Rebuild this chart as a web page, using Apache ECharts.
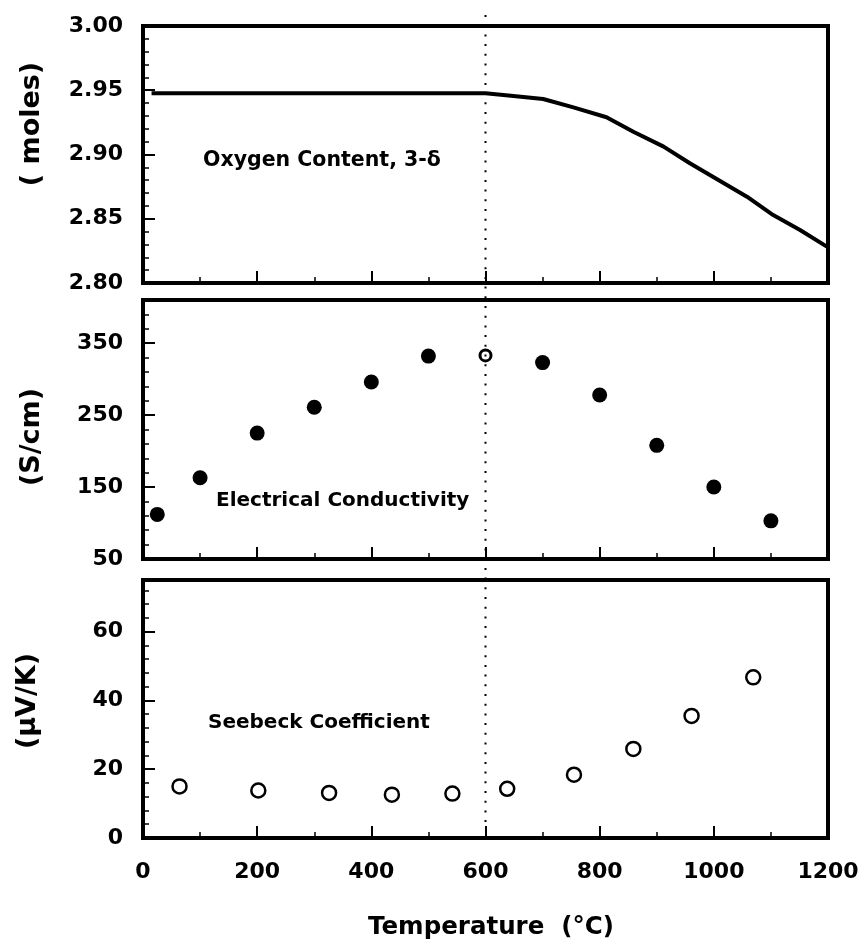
<!DOCTYPE html>
<html><head><meta charset="utf-8">
<script src="https://cdn.jsdelivr.net/npm/echarts@6/dist/echarts.min.js"></script>
<style>html,body{margin:0;padding:0;background:#fff}#c{width:867px;height:944px}</style>
</head><body><div id="c"></div>
<script>
// ---- data ----
const xTickLabels = [0, 200, 400, 600, 800, 1000, 1200];
const oxygenT   = [15, 600, 649, 701, 754, 812, 859, 912, 958, 1005, 1058, 1104, 1151, 1198];
const oxygenVal = [2.9476, 2.9476, 2.9455, 2.9432, 2.9367, 2.9290, 2.9177, 2.9061, 2.8932, 2.8809, 2.8672, 2.8529, 2.8412, 2.8283];
const condT   = [25, 100, 200, 300, 400, 500, 700, 800, 900, 1000, 1100];
const condVal = [112, 163, 225, 261, 296, 332, 323, 278, 208, 150, 103];
const condOpenT   = [600];
const condOpenVal = [333];
const seebeckT   = [64, 202, 326, 436, 542, 638, 755, 859, 961, 1069];
const seebeckVal = [15.0, 13.8, 13.1, 12.6, 12.9, 14.3, 18.4, 25.9, 35.5, 46.7];
const oxygenTicks  = [2.80, 2.85, 2.90, 2.95, 3.00];
const condTicks    = [50, 150, 250, 350];
const seebeckTicks = [0, 20, 40, 60];
const dividerT = 600;

const FONT = 'DejaVu Sans';
const pair = (a, b) => a.map((v, i) => [v, b[i]]);

const grids = [
  {left: 143, right: 39, top: 26, height: 257},
  {left: 143, right: 39, top: 300, height: 259},
  {left: 143, right: 39, top: 580, height: 258}
].map(g => Object.assign(g, {show: true, borderColor: '#000', borderWidth: 4, backgroundColor: 'transparent'}));

function xAxis(i, labels) {
  return {
    type: 'value', gridIndex: i, min: 0, max: 1200, interval: 200,
    axisLine: {show: true, lineStyle: {color: '#000', width: 4}},
    axisTick: {show: true, inside: true, length: 12, lineStyle: {color: '#000', width: 2}},
    minorTick: {show: true, splitNumber: 2, length: 6, lineStyle: {color: '#000', width: 1.5}},
    splitLine: {show: false},
    axisLabel: {show: labels, color: '#000', fontFamily: FONT, fontWeight: 'bold', fontSize: 22, margin: 23,
      formatter: v => xTickLabels.includes(v) ? String(v) : ''}
  };
}
function yMain(i, min, max, step, ticks, fmt) {
  return {
    type: 'value', gridIndex: i, position: 'left', min: min, max: max, interval: step,
    axisLine: {show: true, lineStyle: {color: '#000', width: 4}},
    axisTick: {show: true, inside: true, length: 12, lineStyle: {color: '#000', width: 2}},
    splitLine: {show: false},
    axisLabel: {color: '#000', fontFamily: FONT, fontWeight: 'bold', fontSize: 22, margin: 20,
      formatter: v => ticks.some(t => Math.abs(t - v) < 1e-9) ? fmt(v) : ''}
  };
}
function yMinor(i, min, max, step) {
  return {
    type: 'value', gridIndex: i, position: 'left', offset: 0, min: min, max: max, interval: step,
    axisLine: {show: false},
    axisTick: {show: true, inside: true, length: 6, lineStyle: {color: '#000', width: 1.5}},
    splitLine: {show: false},
    axisLabel: {show: false}
  };
}

const textStyle = (size) => ({fill: '#000', font: 'bold ' + size + 'px "' + FONT + '"'});

const chart = echarts.init(document.getElementById('c'), null, {renderer: 'canvas'});
chart.setOption({
  backgroundColor: '#fff',
  animation: false,
  grid: grids,
  xAxis: [xAxis(0, false), xAxis(1, false), xAxis(2, true)],
  yAxis: [
    yMain(0, 2.80, 3.00, 0.05, oxygenTicks, v => v.toFixed(2)),
    yMain(1, 50, 410, 100, condTicks, v => String(v)),
    yMain(2, 0, 75, 20, seebeckTicks, v => String(v)),
    yMinor(0, 2.80, 3.00, 0.01),
    yMinor(1, 50, 410, 20),
    yMinor(2, 0, 75, 4)
  ],
  series: [
    {name: 'Oxygen Content', type: 'line', xAxisIndex: 0, yAxisIndex: 0, data: pair(oxygenT, oxygenVal),
      showSymbol: false, smooth: false, lineStyle: {color: '#000', width: 4, join: 'round'}, z: 3},
    {name: 'Electrical Conductivity', type: 'scatter', xAxisIndex: 1, yAxisIndex: 1, data: pair(condT, condVal),
      symbol: 'circle', symbolSize: 15, itemStyle: {color: '#000', opacity: 1}, z: 3},
    {name: 'Electrical Conductivity (600)', type: 'scatter', xAxisIndex: 1, yAxisIndex: 1, data: pair(condOpenT, condOpenVal),
      symbol: 'circle', symbolSize: 11, itemStyle: {color: '#fff', borderColor: '#000', borderWidth: 3, opacity: 1}, z: 4},
    {name: 'Seebeck Coefficient', type: 'scatter', xAxisIndex: 2, yAxisIndex: 2, data: pair(seebeckT, seebeckVal),
      symbol: 'circle', symbolSize: 14, itemStyle: {color: '#fff', borderColor: '#000', borderWidth: 2.5, opacity: 1}, z: 3}
  ],
  graphic: [
    {type: 'text', x: 203, y: 161, style: Object.assign({text: 'Oxygen Content, 3-δ', align: 'left', verticalAlign: 'middle'}, textStyle(20.5))},
    {type: 'text', x: 216, y: 501, style: Object.assign({text: 'Electrical Conductivity', align: 'left', verticalAlign: 'middle'}, textStyle(20))},
    {type: 'text', x: 208, y: 723, style: Object.assign({text: 'Seebeck Coefficient', align: 'left', verticalAlign: 'middle'}, textStyle(20))},
    {type: 'text', x: 32, y: 124, rotation: Math.PI / 2, style: Object.assign({text: '( moles)', align: 'center', verticalAlign: 'middle'}, textStyle(27))},
    {type: 'text', x: 32, y: 437, rotation: Math.PI / 2, style: Object.assign({text: '(S/cm)', align: 'center', verticalAlign: 'middle'}, textStyle(27))},
    {type: 'text', x: 28, y: 701, rotation: Math.PI / 2, style: Object.assign({text: '(μV/K)', align: 'center', verticalAlign: 'middle'}, textStyle(27))},
    {type: 'text', x: 491, y: 928, style: Object.assign({text: 'Temperature  (°C)', align: 'center', verticalAlign: 'middle'}, textStyle(24.5))}
  ]
});

// dotted divider at 600 °C, placed through the library's scale
const px = chart.convertToPixel({xAxisIndex: 0}, dividerT);
chart.setOption({
  graphic: [
    {type: 'line', id: 'divider', z: 10, silent: true,
      shape: {x1: px, y1: 15, x2: px, y2: 828},
      style: {stroke: '#000', lineWidth: 2, lineDash: [2, 7.7]}}
  ]
});
</script>
</body></html>
